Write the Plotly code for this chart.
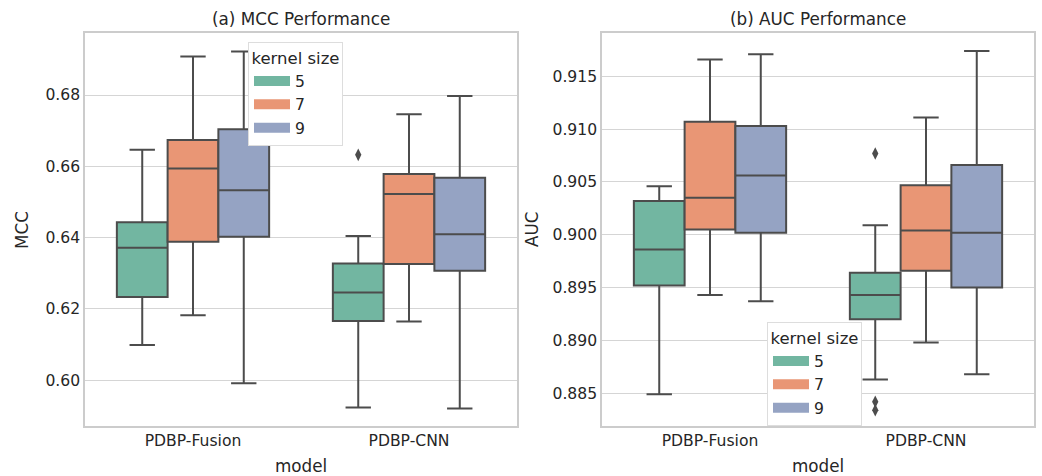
import plotly.graph_objects as go

models = ["PDBP-Fusion", "PDBP-CNN"]
kernels = ["5", "7", "9"]
colors = ["#72b6a1", "#e99675", "#95a3c3"]

# MCC stats per kernel: [Fusion, CNN]
mcc_low = {"5": [0.6098, 0.5923], "7": [0.6182, 0.6164], "9": [0.5991, 0.5920]}
mcc_q1 = {"5": [0.6233, 0.6166], "7": [0.6388, 0.6326], "9": [0.6402, 0.6307]}
mcc_med = {"5": [0.6371, 0.6246], "7": [0.6594, 0.6522], "9": [0.6533, 0.6409]}
mcc_q3 = {"5": [0.6443, 0.6327], "7": [0.6674, 0.6578], "9": [0.6704, 0.6568]}
mcc_high = {"5": [0.6646, 0.6404], "7": [0.6908, 0.6746], "9": [0.6922, 0.6797]}
mcc_outliers = {"5": [[], [0.6632]], "7": [[], []], "9": [[], []]}

# AUC stats per kernel: [Fusion, CNN]
auc_low = {"5": [0.8849, 0.8863], "7": [0.8943, 0.8898], "9": [0.8937, 0.8868]}
auc_q1 = {"5": [0.8952, 0.8920], "7": [0.9005, 0.8966], "9": [0.9002, 0.8950]}
auc_med = {"5": [0.8986, 0.8943], "7": [0.9035, 0.9004], "9": [0.9056, 0.9002]}
auc_q3 = {"5": [0.9032, 0.8964], "7": [0.9107, 0.9047], "9": [0.9103, 0.9066]}
auc_high = {"5": [0.9046, 0.9009], "7": [0.9166, 0.9111], "9": [0.9171, 0.9174]}
auc_outliers = {"5": [[], [0.9077, 0.8842, 0.8834]], "7": [[], []], "9": [[], []]}

mcc_ticks = [0.60, 0.62, 0.64, 0.66, 0.68]
auc_ticks = [0.885, 0.890, 0.895, 0.900, 0.905, 0.910, 0.915]

offsets = [-0.235, 0.0, 0.235]
box_w = 0.235
line_col = "#4c4c4c"
text_col = "#262626"
grid_col = "#d5d5d5"

fig = go.Figure()

panels = [
    ("x", "y", "legend", mcc_low, mcc_q1, mcc_med, mcc_q3, mcc_high, mcc_outliers),
    ("x2", "y2", "legend2", auc_low, auc_q1, auc_med, auc_q3, auc_high, auc_outliers),
]

for xa, ya, leg, lo, q1, med, q3, hi, outl in panels:
    for ki, k in enumerate(kernels):
        xs = [mi + offsets[ki] for mi in range(len(models))]
        fig.add_trace(go.Box(
            x=xs, q1=q1[k], median=med[k], q3=q3[k],
            lowerfence=lo[k], upperfence=hi[k],
            width=box_w, whiskerwidth=0.5,
            fillcolor=colors[ki], line=dict(color=line_col, width=2),
            boxpoints=False, name=k, showlegend=False,
            xaxis=xa, yaxis=ya, hoverinfo="skip",
        ))
        # legend patch (wide rectangle like matplotlib's legend handles)
        fig.add_trace(go.Scatter(
            x=[None], y=[None], mode="lines", name=k,
            line=dict(color=colors[ki], width=10),
            legend=leg, showlegend=True, xaxis=xa, yaxis=ya, hoverinfo="skip",
        ))
        ox, oy = [], []
        for mi in range(len(models)):
            for v in outl[k][mi]:
                ox.append(mi + offsets[ki])
                oy.append(v)
        if ox:
            fig.add_trace(go.Scatter(
                x=ox, y=oy, mode="markers",
                marker=dict(symbol="diamond-tall", size=9, color=line_col),
                showlegend=False, xaxis=xa, yaxis=ya, hoverinfo="skip",
            ))

axis_common = dict(
    showline=True, mirror=True, linecolor="#cccccc", linewidth=1.5,
    ticks="", tickfont=dict(family="DejaVu Sans", size=15.6, color=text_col),
    zeroline=False,
)

legend_common = dict(
    xanchor="left", yanchor="top",
    bgcolor="white", bordercolor="#dddddd", borderwidth=1,
    title=dict(text="kernel size", font=dict(size=16.5, color=text_col), side="top center"),
    font=dict(size=15.6, color=text_col), tracegroupgap=0, itemwidth=36,
)

fig.update_layout(
    width=1042, height=476,
    margin=dict(l=0, r=0, t=0, b=0),
    paper_bgcolor="white", plot_bgcolor="white",
    font=dict(family="DejaVu Sans", color=text_col),
    xaxis=dict(domain=[85 / 1042, 517 / 1042], range=[-0.5, 1.5],
               tickvals=[0, 1], ticktext=models, showgrid=False, anchor="y",
               **axis_common),
    xaxis2=dict(domain=[602 / 1042, 1034 / 1042], range=[-0.5, 1.5],
                tickvals=[0, 1], ticktext=models, showgrid=False, anchor="y2",
                **axis_common),
    yaxis=dict(domain=[1 - 426 / 476, 1 - 33 / 476], range=[0.5871, 0.6974],
               tickvals=mcc_ticks, ticktext=[f"{t:.2f}" for t in mcc_ticks],
               showgrid=True, gridcolor=grid_col, gridwidth=1.2, anchor="x",
               **axis_common),
    yaxis2=dict(domain=[1 - 426 / 476, 1 - 33 / 476], range=[0.8819, 0.9191],
                tickvals=auc_ticks, ticktext=[f"{t:.3f}" for t in auc_ticks],
                showgrid=True, gridcolor=grid_col, gridwidth=1.2, anchor="x2",
                **axis_common),
    legend=dict(x=248 / 1042, y=1 - 42 / 476, **legend_common),
    legend2=dict(x=767 / 1042, y=1 - 322 / 476, **legend_common),
    showlegend=True,
)

annos = [
    dict(text="(a) MCC Performance", x=301 / 1042, y=1 - 19 / 476, size=16.8, angle=0),
    dict(text="(b) AUC Performance", x=818 / 1042, y=1 - 19 / 476, size=16.8, angle=0),
    dict(text="model", x=301 / 1042, y=1 - 466 / 476, size=16.8, angle=0),
    dict(text="model", x=818 / 1042, y=1 - 466 / 476, size=16.8, angle=0),
    dict(text="MCC", x=22 / 1042, y=1 - 230 / 476, size=16.8, angle=-90),
    dict(text="AUC", x=532 / 1042, y=1 - 230 / 476, size=16.8, angle=-90),
]
for a in annos:
    fig.add_annotation(
        text=a["text"], x=a["x"], y=a["y"], xref="paper", yref="paper",
        xanchor="center", yanchor="middle", showarrow=False, textangle=a["angle"],
        font=dict(family="DejaVu Sans", size=a["size"], color=text_col),
    )

fig.write_html("out.html")
